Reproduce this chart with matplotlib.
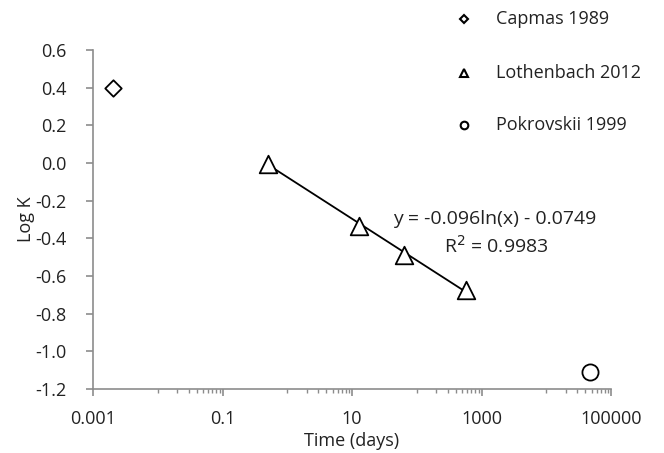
import numpy as np
import matplotlib.pyplot as plt
from matplotlib.ticker import FixedLocator, FixedFormatter, NullFormatter

plt.rcParams['font.family'] = ['Open Sans', 'DejaVu Sans']

# data
capmas_t = [0.00205]
capmas_logk = [0.40]
loth_t = [0.5, 12.7, 62.8, 577]
loth_logk = [-0.007, -0.335, -0.489, -0.675]
pokr_t = [46800]
pokr_logk = [-1.108]

# trendline given on the chart: y = -0.096 ln(x) - 0.0749
fit_a = -0.096
fit_b = -0.0749

xticks = [0.001, 0.1, 10, 1000, 100000]
xlabels = ['0.001', '0.1', '10', '1000', '100000']
yticks = [0.6, 0.4, 0.2, 0.0, -0.2, -0.4, -0.6, -0.8, -1.0, -1.2]
leg_names = ['Capmas 1989', 'Lothenbach 2012', 'Pokrovskii 1999']

fs = 13
txt = '#222222'
grey = '#8c8c8c'

fig = plt.figure(figsize=(6.64, 4.53), dpi=100)
ax = fig.add_axes([93/664, 1-389/453, (611-93)/664, (389-50)/453])

tfit = np.logspace(np.log10(loth_t[0]), np.log10(loth_t[-1]), 100)
ax.plot(tfit, fit_a*np.log(tfit) + fit_b, color='black', lw=1.3, zorder=2)

ax.scatter(capmas_t, capmas_logk, marker='D', s=70, facecolors='white',
           edgecolors='black', linewidths=1.3, zorder=3)
ax.scatter(loth_t, loth_logk, marker='^', s=160, facecolors='white',
           edgecolors='black', linewidths=1.3, zorder=3)
ax.scatter(pokr_t, pokr_logk, marker='o', s=135, facecolors='white',
           edgecolors='black', linewidths=1.3, zorder=3)

ax.set_xscale('log')
ax.set_xlim(0.001, 100000)
ax.set_ylim(-1.2, 0.6)

ax.xaxis.set_major_locator(FixedLocator(xticks))
ax.xaxis.set_major_formatter(FixedFormatter(xlabels))
minors = [k*10.0**e for e in [-2, 0, 2, 4] for k in range(1, 10)]
ax.xaxis.set_minor_locator(FixedLocator(minors))
ax.xaxis.set_minor_formatter(NullFormatter())
ax.set_yticks(yticks)
ax.set_yticklabels(['%.1f' % v for v in yticks])

for s in ['top', 'right']:
    ax.spines[s].set_visible(False)
for s in ['left', 'bottom']:
    ax.spines[s].set_color(grey)
    ax.spines[s].set_linewidth(1.2)
ax.tick_params(axis='both', which='major', color=grey, length=5, width=1.2,
               labelsize=fs, labelcolor=txt)
ax.tick_params(axis='x', which='minor', color=grey, length=3, width=1)
ax.tick_params(axis='x', which='major', pad=10)
ax.tick_params(axis='y', which='major', pad=14)

ax.set_ylabel('Log K', fontsize=fs, color=txt, labelpad=0)
ax.set_xlabel('Time (days)', fontsize=fs, color=txt, labelpad=3)

ax.text(1620, -0.297, 'y = -0.096ln(x) - 0.0749', fontsize=14, color=txt,
        ha='center', va='center')
ax.text(1700, -0.441, 'R$^2$ = 0.9983', fontsize=14, color=txt,
        ha='center', va='center')

# legend placed outside at top right
leg_y = [19, 73, 125]
leg_markers = ['D', '^', 'o']
leg_ms = [4.5, 6, 5.5]
for name, yy, mk, ms in zip(leg_names, leg_y, leg_markers, leg_ms):
    fy = 1 - yy/453
    fig.add_artist(plt.Line2D([463.7/664], [fy], marker=mk, markersize=ms,
                              markerfacecolor='white', markeredgecolor='black',
                              markeredgewidth=1.5, linestyle='none',
                              transform=fig.transFigure))
    fig.text(496/664, fy, name, fontsize=fs, ha='left', va='center', color=txt)

fig.savefig('out.png', dpi=100)
